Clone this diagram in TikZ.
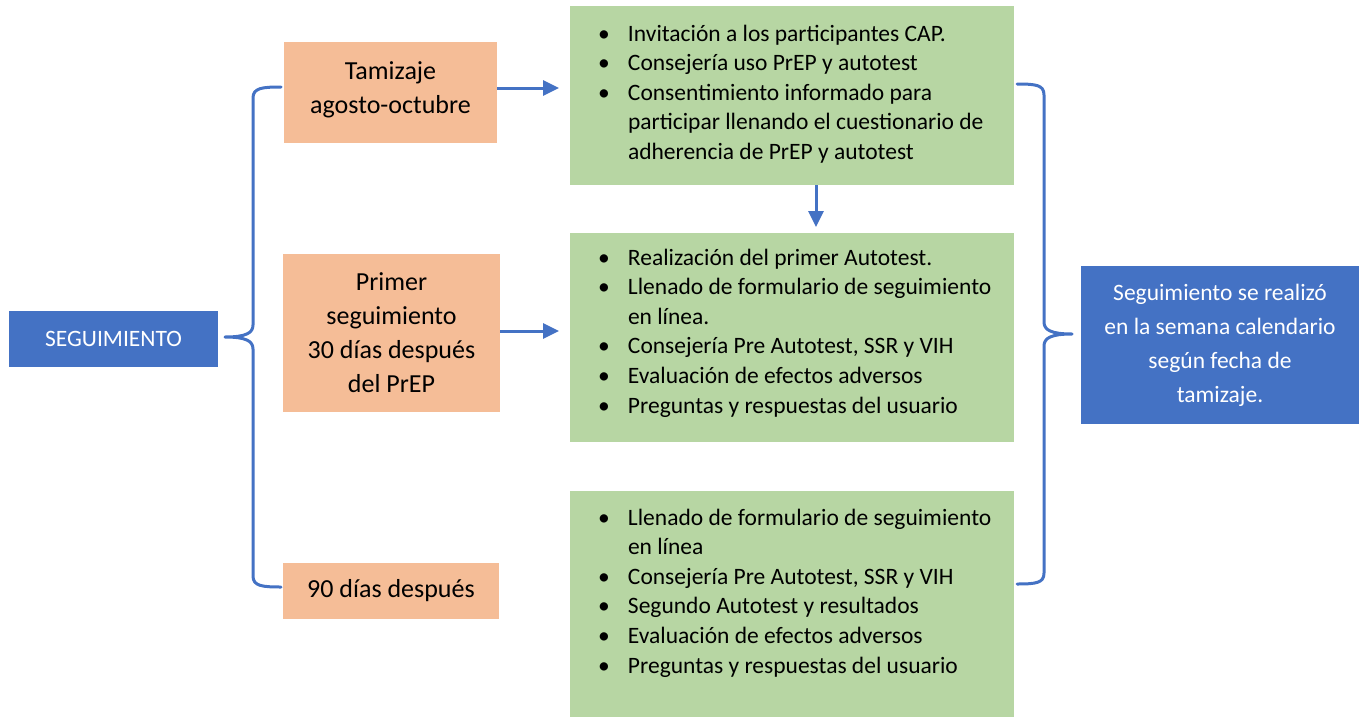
\documentclass[tikz,border=0pt]{standalone}
\usepackage{fontspec}
\setmainfont{Carlito}
\usetikzlibrary{arrows.meta,calc}
\definecolor{bblue}{HTML}{4472C4}
\definecolor{bgreen}{HTML}{B7D6A3}
\definecolor{borange}{HTML}{F5BD97}
\newcommand{\bul}{\makebox[30pt][l]{\textbullet}}
\newcommand{\ind}{\hspace*{30pt}}
\newcommand{\firstl}{\rule{0pt}{20pt}}
\begin{document}
\begin{tikzpicture}[x=1pt,y=-1pt,
  box/.style={inner sep=0pt, outer sep=0pt, anchor=north west},
  obox/.style={box, fill=borange, align=center, font=\fontsize{26}{34}\selectfont, text=black},
  gbox/.style={box, fill=bgreen},
  bbox/.style={box, fill=bblue, text=white, align=center, font=\fontsize{23.5}{34}\selectfont},
  list/.style={inner sep=0pt, outer sep=0pt, anchor=north west, align=left, font=\fontsize{23.5}{29.6}\selectfont, text=black},
  arr/.style={draw=bblue, line width=3pt, -{Triangle[length=16pt,width=15pt]}},
  brace/.style={draw=bblue, line width=3pt, line join=round, line cap=round}]
\useasboundingbox (0,0) rectangle (1359,717);

% left blue box
\node[bbox, minimum width=209pt, minimum height=56pt] (seg) at (9,311) {SEGUIMIENTO};

% orange boxes
\node[obox, minimum width=213pt, minimum height=101pt] (o1) at (284,42) {Tamizaje\\agosto-octubre\\[-24pt]\mbox{}};
\node[obox, minimum width=217pt, minimum height=158pt] (o2) at (283,254) {Primer\\seguimiento\\30 días después\\del PrEP};
\node[obox, minimum width=216pt, minimum height=56pt] (o3) at (283,563) {90 días después};

% green boxes
\node[gbox, minimum width=444pt, minimum height=179pt] (g1) at (570,6) {};
\node[gbox, minimum width=444pt, minimum height=209pt] (g2) at (570,233) {};
\node[gbox, minimum width=444pt, minimum height=226pt] (g3) at (570,491) {};

\node[list] (g1t) at (598,21) {\firstl\bul Invitación a los participantes CAP.\\
\bul Consejería uso PrEP y autotest\\
\bul Consentimiento informado para\\
\ind participar llenando el cuestionario de\\
\ind adherencia de PrEP y autotest};

\node[list] (g2t) at (598,245) {\firstl\bul Realización del primer Autotest.\\
\bul Llenado de formulario de seguimiento\\
\ind en línea.\\
\bul Consejería Pre Autotest, SSR y VIH\\
\bul Evaluación de efectos adversos\\
\bul Preguntas y respuestas del usuario};

\node[list] (g3t) at (598,505) {\firstl\bul Llenado de formulario de seguimiento\\
\ind en línea\\
\bul Consejería Pre Autotest, SSR y VIH\\
\bul Segundo Autotest y resultados\\
\bul Evaluación de efectos adversos\\
\bul Preguntas y respuestas del usuario};

% right blue box
\node[bbox, minimum width=278pt, minimum height=158pt] (res) at (1081,266) {Seguimiento se realizó\\en la semana calendario\\según fecha de\\tamizaje.};

% arrows
\draw[arr] ([yshift=4.5pt]o1.east) coordinate (s1) -- ([xshift=-11pt]s1 -| g1.west);
\draw[arr] ([yshift=2pt]o2.east) coordinate (s2) -- ([xshift=-11pt]s2 -| g2.west);
\draw[arr] ([xshift=24pt]g1.south) -- ([xshift=24pt,yshift=6pt]g2.north);

% left brace
\draw[brace] (281,87) .. controls (262,87) and (253,88) .. (253,98) -- (253,325)
  .. controls (253,333) and (246,337) .. (225,337)
  .. controls (246,337) and (253,341) .. (253,349) -- (253,576)
  .. controls (253,586) and (262,587) .. (281,587);

% right brace
\draw[brace] (1017,84) .. controls (1036,84) and (1044,85) .. (1044,95) -- (1044,322)
  .. controls (1044,330) and (1051,334) .. (1072,334)
  .. controls (1051,334) and (1044,338) .. (1044,346) -- (1044,573)
  .. controls (1044,583) and (1036,584) .. (1017,584);
\end{tikzpicture}
\end{document}
